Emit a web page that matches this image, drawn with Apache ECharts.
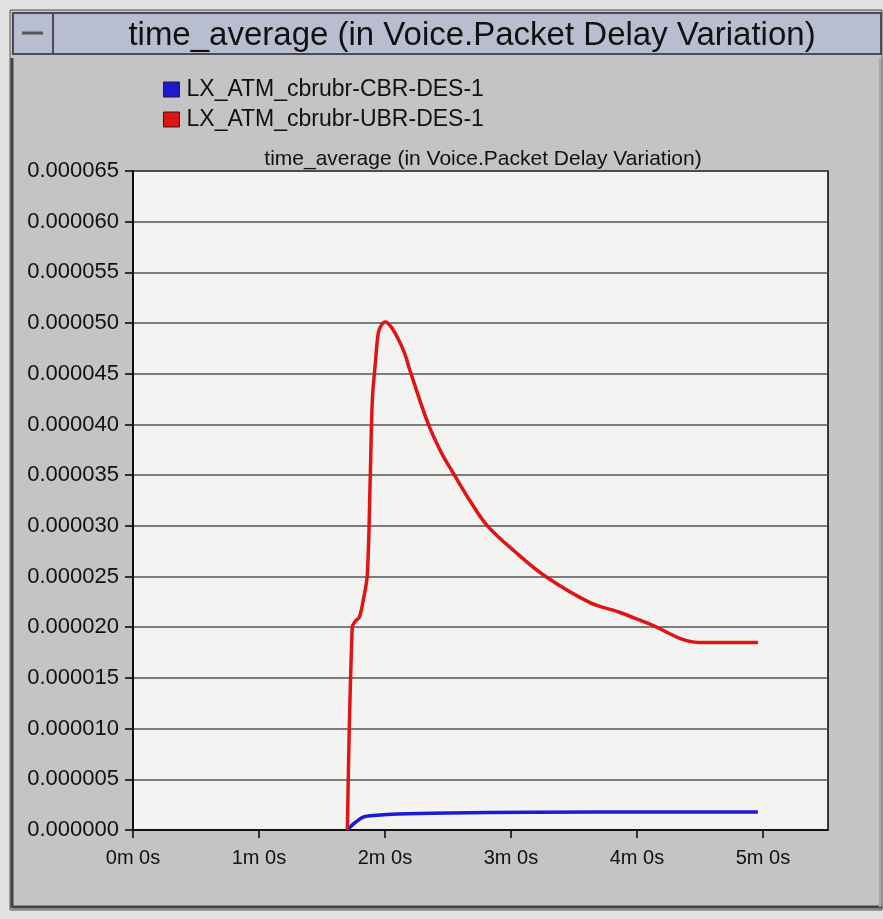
<!DOCTYPE html>
<html>
<head>
<meta charset="utf-8">
<script src="https://cdn.jsdelivr.net/npm/echarts@6/dist/echarts.min.js"></script>
<style>
  html, body { margin: 0; padding: 0; background: #e2e2e2; }
  #chart { width: 883px; height: 919px; }
</style>
</head>
<body>
<div id="chart"></div>
<script>
// series names
const seriesNames = ["LX_ATM_cbrubr-CBR-DES-1", "LX_ATM_cbrubr-UBR-DES-1"];

// CBR (blue): time in seconds, value in seconds
const cbrTime = [102.1, 105.0, 109.7, 116.0, 125.9, 150.0, 190.0, 250.0, 297.6];
const cbrValue = [0, 0.0000006, 0.00000128, 0.00000145, 0.00000158, 0.00000168, 0.00000175, 0.00000178, 0.00000178];

// UBR (red)
const ubrTime = [102.1, 104.4, 105.9, 107.8, 109.7, 111.6, 113.0, 114.0, 115.4, 116.8, 118.3, 120.2,
  123.0, 125.9, 129.2, 132.1, 140.7, 146.9, 153.1, 160.7, 168.8, 182.2, 196.5, 217.9, 231.3, 245.1, 269.4, 297.6];
const ubrValue = [0, 0.00002, 0.0000206, 0.000021, 0.0000227, 0.0000252, 0.0000349, 0.0000425, 0.000046, 0.000049, 0.0000498, 0.0000501,
  0.0000496, 0.0000486, 0.0000471, 0.0000452, 0.00004, 0.0000372, 0.000035, 0.0000324, 0.00003, 0.0000274, 0.000025, 0.0000224, 0.0000215, 0.0000204, 0.0000185, 0.0000185];

// x axis ticks (seconds) and y axis range
const xTicks = [0, 60, 120, 180, 240, 300];
const xMax = 331;
const yMax = 0.000065;
const yStep = 0.000005;

const chartTitle = "time_average (in Voice.Packet Delay Variation)";

const toPairs = (xs, ys) => xs.map((x, i) => [x, ys[i]]);

const myChart = echarts.init(document.getElementById("chart"));

const option = {
  backgroundColor: "#e2e2e2",
  animation: false,
  textStyle: { fontFamily: "Liberation Sans, Arial, sans-serif", color: "#111" },
  // window frame: title bar, button, panel
  graphic: [
    { type: "rect", z: -20, silent: true, shape: { x: 10, y: 10, width: 872, height: 900 }, style: { fill: "#c4c4c4", stroke: "#555", lineWidth: 1 } },
    { type: "rect", z: -15, silent: true, shape: { x: 13, y: 13, width: 868, height: 41 }, style: { fill: "#b9bdd0", stroke: "#4a4a5a", lineWidth: 2 } },
    { type: "rect", z: -14, silent: true, shape: { x: 13, y: 13, width: 40, height: 41 }, style: { fill: "#b9bdd0", stroke: "#4a4a5a", lineWidth: 2 } },
    { type: "line", z: -13, silent: true, shape: { x1: 22, y1: 33, x2: 43, y2: 33 }, style: { stroke: "#555", lineWidth: 3 } },
    { type: "line", z: -13, silent: true, shape: { x1: 12, y1: 58, x2: 12, y2: 908 }, style: { stroke: "#444", lineWidth: 3 } },
    { type: "line", z: -13, silent: true, shape: { x1: 12, y1: 907, x2: 882, y2: 907 }, style: { stroke: "#444", lineWidth: 3 } },
    { type: "line", z: -13, silent: true, shape: { x1: 880, y1: 58, x2: 880, y2: 907 }, style: { stroke: "#aaa", lineWidth: 2 } },
    {
      type: "text", z: -12, silent: true, x: 472, y: 36,
      style: { text: chartTitle, font: "33px Liberation Sans, Arial, sans-serif", fill: "#111", align: "center", verticalAlign: "middle" }
    }
  ],
  title: {
    text: chartTitle,
    left: 478,
    textAlign: "center",
    top: 144,
    textStyle: { fontSize: 21, fontWeight: "normal", color: "#111" }
  },
  legend: {
    orient: "vertical",
    left: 158,
    top: 73,
    itemGap: 7,
    itemWidth: 16,
    itemHeight: 15,
    icon: "rect",
    itemStyle: { borderColor: "#222", borderWidth: 1 },
    textStyle: { fontSize: 23, color: "#111", padding: [0, 0, 0, 2] },
    data: seriesNames
  },
  grid: {
    left: 133,
    top: 171,
    right: 55,
    bottom: 89,
    show: true,
    backgroundColor: "#f3f3f1",
    borderColor: "#000",
    borderWidth: 1.5
  },
  xAxis: {
    type: "value",
    min: 0,
    max: xMax,
    axisLine: { show: true, lineStyle: { color: "#000", width: 1.5 } },
    axisTick: { show: true, length: 8, lineStyle: { color: "#000", width: 1.5 }, customValues: xTicks },
    axisLabel: {
      customValues: xTicks,
      fontSize: 20,
      color: "#111",
      margin: 18,
      formatter: (v) => Math.round(v / 60) + "m 0s"
    },
    splitLine: { show: false }
  },
  yAxis: {
    type: "value",
    min: 0,
    max: yMax,
    interval: yStep,
    axisLine: { show: true, lineStyle: { color: "#000", width: 1.5 } },
    axisTick: { show: true, length: 8, lineStyle: { color: "#000", width: 1.5 } },
    axisLabel: {
      fontSize: 22,
      color: "#111",
      margin: 14,
      formatter: (v) => v.toFixed(6)
    },
    splitLine: { show: true, lineStyle: { color: "#555", width: 1.5 } }
  },
  series: [
    {
      name: seriesNames[0],
      type: "line",
      data: toPairs(cbrTime, cbrValue),
      showSymbol: false,
      smooth: 0.3,
      color: "#1a1ad0",
      lineStyle: { width: 3.5, color: "#1a1ad0" }
    },
    {
      name: seriesNames[1],
      type: "line",
      data: toPairs(ubrTime, ubrValue),
      showSymbol: false,
      smooth: 0.35,
      color: "#e01414",
      lineStyle: { width: 3.5, color: "#e01414" }
    }
  ]
};

myChart.setOption(option);
</script>
</body>
</html>
